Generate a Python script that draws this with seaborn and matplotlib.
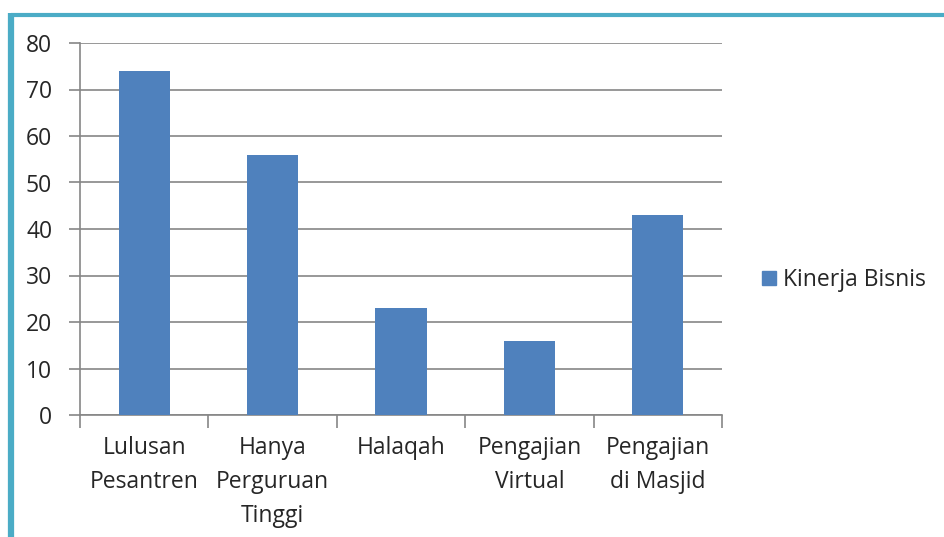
import matplotlib
matplotlib.use("Agg")
import matplotlib.pyplot as plt
import seaborn as sns
import pandas as pd
from matplotlib.lines import Line2D
from matplotlib.patches import Patch

categories = ["Lulusan\nPesantren", "Hanya\nPerguruan\nTinggi", "Halaqah",
              "Pengajian\nVirtual", "Pengajian\ndi Masjid"]
values = [74, 56, 23, 16, 43]
series_name = "Kinerja Bisnis"
yticks = [0, 10, 20, 30, 40, 50, 60, 70, 80]

sns.set_style("white")
plt.rcParams['font.family'] = ['Open Sans', 'DejaVu Sans']

df = pd.DataFrame({"cat": categories, "val": values})

fig = plt.figure(figsize=(9.44, 5.37), dpi=100)
ax = fig.add_axes([80/944, 1-415/537, (722-80)/944, (415-43)/537])

bar_color = "#4F81BD"
sns.barplot(data=df, x="cat", y="val", color=bar_color, width=0.4, ax=ax,
            saturation=1, zorder=3, linewidth=0, edgecolor=bar_color)

ax.set_ylim(0, 80)
ax.set_xlim(-0.5, len(categories) - 0.5)
ax.set_yticks(yticks)
ax.set_yticklabels([str(t) for t in yticks], fontsize=16.5)
ax.set_xlabel("")
ax.set_ylabel("")
ax.yaxis.grid(True, color="#868686", linewidth=1.2, zorder=0)
ax.set_axisbelow(True)

for s in ["top", "right"]:
    ax.spines[s].set_visible(False)
for s in ["left", "bottom"]:
    ax.spines[s].set_color("#868686")
    ax.spines[s].set_linewidth(1.2)

ax.tick_params(axis="y", which="major", length=8, width=1.2, color="#868686",
               direction="out", left=True, pad=12)
ax.tick_params(axis="x", which="major", length=0, pad=15)
ax.set_xticks(range(len(categories)))
ax.set_xticklabels(categories, fontsize=16.5, linespacing=1.55, va="top")
ax.set_xticks([i - 0.5 for i in range(len(categories) + 1)], minor=True)
ax.tick_params(axis="x", which="minor", length=9, width=1.2, color="#868686",
               direction="out", bottom=True)

handles = [Patch(facecolor=bar_color, edgecolor=bar_color, label=series_name)]
fig.legend(handles=handles, loc="center left", bbox_to_anchor=(762/944, 1-280/537),
           frameon=False, fontsize=16.5, handlelength=0.6, handleheight=0.6,
           handletextpad=0.3, borderaxespad=0, borderpad=0)

border_color = "#4BACC6"
fig.add_artist(Line2D([11/944, 1], [1-14.5/537, 1-14.5/537], color=border_color,
                      linewidth=3, transform=fig.transFigure, solid_capstyle="butt"))
fig.add_artist(Line2D([11/944, 11/944], [0, 1-13/537], color=border_color,
                      linewidth=4.5, transform=fig.transFigure, solid_capstyle="butt"))

fig.savefig("out.png", dpi=100, facecolor="white")
